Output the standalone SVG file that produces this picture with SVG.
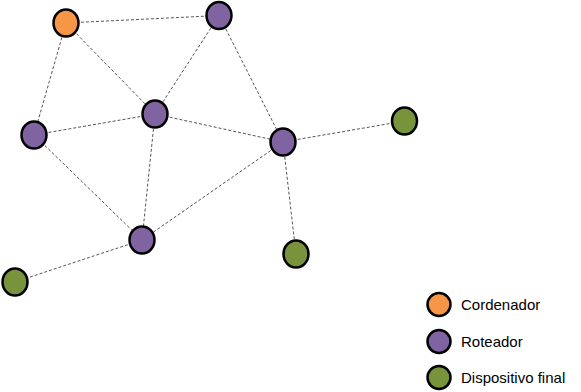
<svg xmlns="http://www.w3.org/2000/svg" width="581" height="392" viewBox="0 0 581 392">
<style>
.e{stroke:#555;stroke-width:1;stroke-dasharray:3,2;fill:none}
.n{stroke:#000;stroke-width:2.5}
.c{fill:#F79646}.r{fill:#8064A2}.g{fill:#77933C}
text{font-family:"Liberation Sans",Arial,sans-serif;font-size:15px;fill:#000}
</style>
<rect width="581" height="392" fill="#fff"/>
<g id="connectors">
<line class="e" x1="66" y1="23" x2="219" y2="15.5"/>
<line class="e" x1="66" y1="23" x2="155" y2="114"/>
<line class="e" x1="66" y1="23" x2="34" y2="135"/>
<line class="e" x1="219" y1="15.5" x2="155" y2="114"/>
<line class="e" x1="219" y1="15.5" x2="283" y2="142"/>
<line class="e" x1="155" y1="114" x2="34" y2="135"/>
<line class="e" x1="155" y1="114" x2="283" y2="142"/>
<line class="e" x1="155" y1="114" x2="142" y2="240"/>
<line class="e" x1="34" y1="135" x2="142" y2="240"/>
<line class="e" x1="283" y1="142" x2="142" y2="240"/>
<line class="e" x1="283" y1="142" x2="404.5" y2="121"/>
<line class="e" x1="283" y1="142" x2="296" y2="254"/>
<line class="e" x1="142" y1="240" x2="15" y2="282"/>
</g>
<g id="coord"><ellipse class="n c" cx="66" cy="23" rx="12.5" ry="13.5"/></g>
<g id="r-top"><ellipse class="n r" cx="219" cy="15.5" rx="12.5" ry="13.5"/></g>
<g id="r-center"><ellipse class="n r" cx="155" cy="114" rx="12.5" ry="13.5"/></g>
<g id="r-left"><ellipse class="n r" cx="34" cy="135" rx="12.5" ry="13.5"/></g>
<g id="r-right"><ellipse class="n r" cx="283" cy="142" rx="12.5" ry="13.5"/></g>
<g id="r-bottom"><ellipse class="n r" cx="142" cy="240" rx="12.5" ry="13.5"/></g>
<g id="d-right"><ellipse class="n g" cx="404.5" cy="121" rx="12.5" ry="13.5"/></g>
<g id="d-bottom"><ellipse class="n g" cx="296" cy="254" rx="12.5" ry="13.5"/></g>
<g id="d-left"><ellipse class="n g" cx="15" cy="282" rx="12.5" ry="13.5"/></g>
<g id="legend">
<ellipse class="n c" cx="439" cy="304.5" rx="11.5" ry="11.5"/>
<text x="461" y="309.5">Cordenador</text>
<ellipse class="n r" cx="439" cy="341.5" rx="11.5" ry="11.5"/>
<text x="461" y="346.5">Roteador</text>
<ellipse class="n g" cx="439" cy="377.5" rx="11.5" ry="11.5"/>
<text x="461" y="382.5">Dispositivo final</text>
</g>
</svg>
